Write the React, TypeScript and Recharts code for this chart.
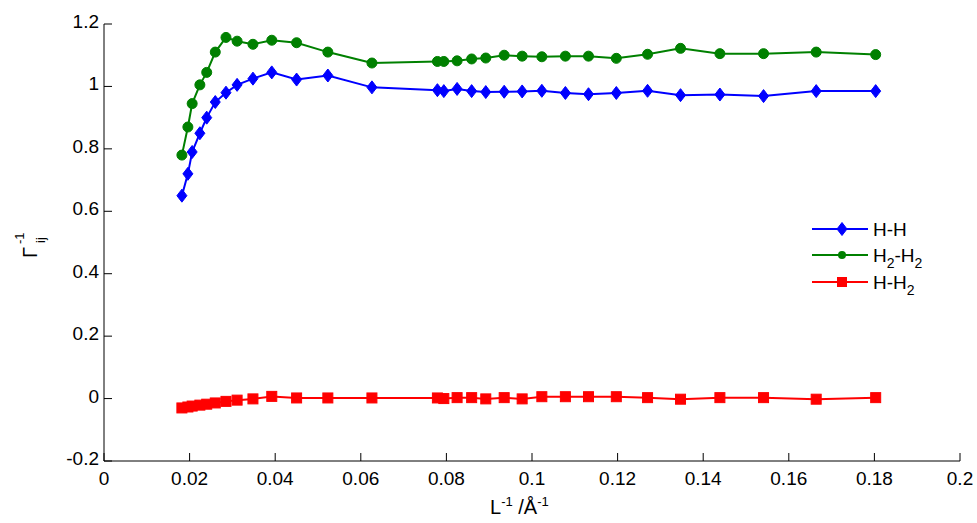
import React from 'react';
import { LineChart, Line, XAxis, YAxis, Customized } from 'recharts';

const invL = [
  0.0182, 0.0196, 0.0206, 0.0224, 0.024, 0.026, 0.0285, 0.0311, 0.0348, 0.0392,
  0.045, 0.0523, 0.0626, 0.0779, 0.0794, 0.0825, 0.0859, 0.0892, 0.0935, 0.0977,
  0.1023, 0.1078, 0.1132, 0.1197, 0.127, 0.1347, 0.1439, 0.1541, 0.1664, 0.1803,
];
const gammaHH = [
  0.65, 0.72, 0.79, 0.85, 0.9, 0.95, 0.98, 1.005, 1.025, 1.045,
  1.022, 1.035, 0.997, 0.988, 0.985, 0.992, 0.985, 0.982, 0.983, 0.984,
  0.986, 0.979, 0.975, 0.979, 0.986, 0.972, 0.974, 0.969, 0.985, 0.985,
];
const gammaH2H2 = [
  0.78, 0.87, 0.945, 1.005, 1.045, 1.11, 1.157, 1.145, 1.135, 1.148,
  1.14, 1.11, 1.075, 1.08, 1.08, 1.082, 1.088, 1.091, 1.1, 1.097,
  1.095, 1.097, 1.097, 1.09, 1.103, 1.122, 1.105, 1.105, 1.11, 1.102,
];
const gammaHH2 = [
  -0.03, -0.027, -0.024, -0.021, -0.018, -0.014, -0.009, -0.005, -0.001, 0.007,
  0.002, 0.002, 0.002, 0.002, 0.0, 0.003, 0.003, -0.001, 0.003, -0.001,
  0.006, 0.006, 0.006, 0.006, 0.003, -0.002, 0.003, 0.003, -0.002, 0.003,
];
const xTicks = [0, 0.02, 0.04, 0.06, 0.08, 0.1, 0.12, 0.14, 0.16, 0.18, 0.2];
const yTicks = [-0.2, 0, 0.2, 0.4, 0.6, 0.8, 1, 1.2];

const data = invL.map((x, i) => ({ x, hh: gammaHH[i], h2h2: gammaH2H2[i], hh2: gammaHH2[i] }));

const FONT = 'Liberation Sans, Arial, sans-serif';
const BLUE = '#0000ff';
const GREEN = '#008000';
const RED = '#ff0000';

const fmt = (v: number) => String(Math.round(v * 100) / 100);

const XTick = (props: any) => {
  const { x, y, payload } = props;
  return (
    <g>
      <line x1={x} y1={y} x2={x} y2={y - 8} stroke="#000" strokeWidth={1} />
      <text x={x} y={y + 24} textAnchor="middle" fontFamily={FONT} fontSize={19} fill="#000">
        {fmt(payload.value)}
      </text>
    </g>
  );
};

const YTick = (props: any) => {
  const { x, y, payload } = props;
  return (
    <g>
      <line x1={x} y1={y} x2={x + 8} y2={y} stroke="#000" strokeWidth={1} />
      <text x={x - 5} y={y + 4} textAnchor="end" fontFamily={FONT} fontSize={19} fill="#000">
        {fmt(payload.value)}
      </text>
    </g>
  );
};

const Diamond = (props: any) => {
  const { cx, cy } = props;
  if (cx == null || cy == null) return null;
  return (
    <polygon
      points={`${cx},${cy - 6.5} ${cx + 5},${cy} ${cx},${cy + 6.5} ${cx - 5},${cy}`}
      fill={BLUE}
      stroke={BLUE}
      strokeWidth={1}
    />
  );
};
const Circle = (props: any) => {
  const { cx, cy } = props;
  if (cx == null || cy == null) return null;
  return <circle cx={cx} cy={cy} r={5} fill={GREEN} stroke={GREEN} strokeWidth={1} />;
};
const Square = (props: any) => {
  const { cx, cy } = props;
  if (cx == null || cy == null) return null;
  return <rect x={cx - 5} y={cy - 5} width={10} height={10} fill={RED} stroke={RED} strokeWidth={1} />;
};

const Extras = () => {
  const lx1 = 812;
  const lx2 = 868;
  const mx = 842;
  const tx = 873;
  const rows = [229, 255, 282];
  return (
    <g>
      {/* legend */}
      <line x1={lx1} y1={rows[0]} x2={lx2} y2={rows[0]} stroke={BLUE} strokeWidth={2} />
      <Diamond cx={mx} cy={rows[0]} />
      <text x={tx} y={rows[0] + 7} fontFamily={FONT} fontSize={19} fill="#000">H-H</text>

      <line x1={lx1} y1={rows[1]} x2={lx2} y2={rows[1]} stroke={GREEN} strokeWidth={2} />
      <circle cx={mx} cy={rows[1]} r={4} fill={GREEN} />
      <text x={tx} y={rows[1] + 7} fontFamily={FONT} fontSize={19} fill="#000">
        H<tspan dy={6} fontSize={14}>2</tspan>
        <tspan dy={-6}>-H</tspan>
        <tspan dy={6} fontSize={14}>2</tspan>
      </text>

      <line x1={lx1} y1={rows[2]} x2={lx2} y2={rows[2]} stroke={RED} strokeWidth={2} />
      <rect x={mx - 5} y={rows[2] - 5} width={10} height={10} fill={RED} />
      <text x={tx} y={rows[2] + 7} fontFamily={FONT} fontSize={19} fill="#000">
        H-H<tspan dy={6} fontSize={14}>2</tspan>
      </text>

      {/* x axis title */}
      <text x={490} y={514} fontFamily={FONT} fontSize={20} fill="#000">
        L<tspan dy={-8} fontSize={13}>-1</tspan>
        <tspan dy={8}> /Å</tspan>
        <tspan dy={-8} fontSize={13}>-1</tspan>
      </text>

      {/* y axis title */}
      <g transform="translate(37,258) rotate(-90)">
        <text x={0} y={0} fontFamily={FONT} fontSize={20} fill="#000">Γ</text>
        <text x={14} y={-13} fontFamily={FONT} fontSize={13} fill="#000">-1</text>
        <text x={15} y={8} fontFamily={FONT} fontSize={13} fill="#000">ij</text>
      </g>
    </g>
  );
};

export default function App() {
  return (
    <div style={{ position: 'absolute', left: 0, top: 0, width: 977, height: 523, background: '#fff' }}>
      <LineChart width={977} height={523} data={data} margin={{ top: 24, right: 17, bottom: 0, left: 0 }}>
        <XAxis
          dataKey="x"
          type="number"
          domain={[0, 0.2]}
          ticks={xTicks}
          interval={0}
          height={62}
          tickSize={0}
          tickMargin={0}
          tickLine={false}
          axisLine={{ stroke: '#000', strokeWidth: 1 }}
          tick={<XTick />}
          allowDataOverflow
        />
        <YAxis
          type="number"
          domain={[-0.2, 1.2]}
          ticks={yTicks}
          interval={0}
          width={104}
          tickSize={0}
          tickMargin={0}
          tickLine={false}
          axisLine={{ stroke: '#000', strokeWidth: 1 }}
          tick={<YTick />}
          allowDataOverflow
        />
        <Line dataKey="hh" stroke={BLUE} strokeWidth={2} dot={<Diamond />} activeDot={false} isAnimationActive={false} />
        <Line dataKey="h2h2" stroke={GREEN} strokeWidth={2} dot={<Circle />} activeDot={false} isAnimationActive={false} />
        <Line dataKey="hh2" stroke={RED} strokeWidth={2} dot={<Square />} activeDot={false} isAnimationActive={false} />
        <Customized component={Extras} />
      </LineChart>
    </div>
  );
}
